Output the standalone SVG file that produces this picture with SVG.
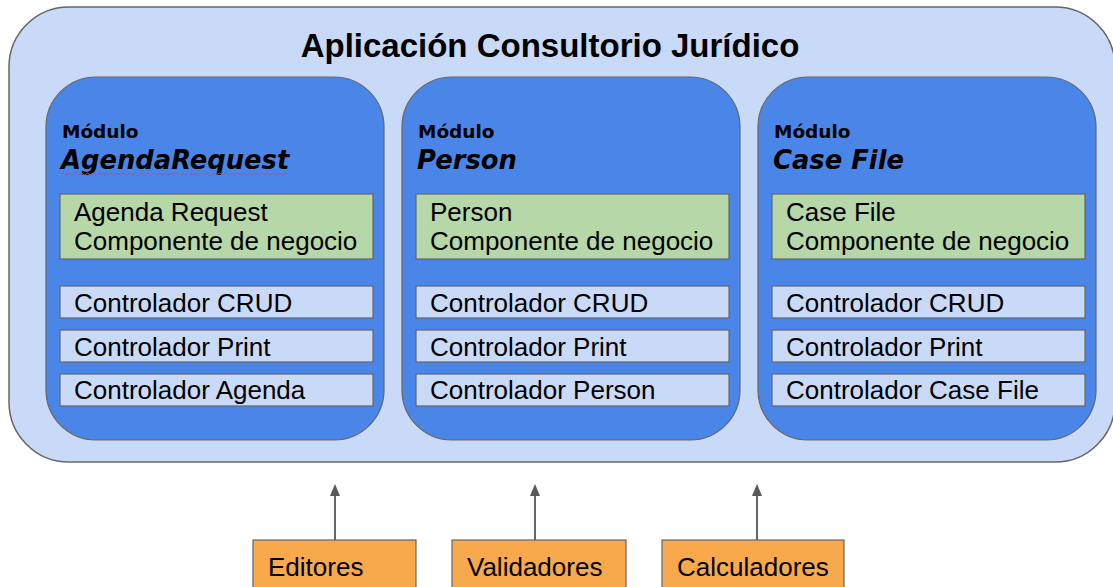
<svg xmlns="http://www.w3.org/2000/svg" width="1113" height="587" viewBox="0 0 1113 587">
<defs>
<style>
.outer{fill:#c9daf8;stroke:#666;stroke-width:1.5}
.mod{fill:#4a86e8;stroke:#666;stroke-width:1.2}
.biz{fill:#b6d7a8;stroke:#666;stroke-width:1.2}
.ctl{fill:#c9daf8;stroke:#666;stroke-width:1.2}
.ext{fill:#f8a94b;stroke:#666;stroke-width:1.2}
.t{font-family:"Liberation Sans",Arial,sans-serif;font-size:26px;fill:#000}
.title{font-family:"Liberation Sans",Arial,sans-serif;font-size:33px;font-weight:bold;fill:#000}
.ml{font-family:"DejaVu Sans",Verdana,sans-serif;font-size:18.5px;font-weight:bold;fill:#000}
.mn{font-family:"DejaVu Sans",Verdana,sans-serif;font-size:25.8px;font-weight:bold;font-style:italic;fill:#000}
.arr{stroke:#666;stroke-width:2;fill:none}
</style>
<marker id="ah" viewBox="0 0 10 12" refX="5" refY="1" markerWidth="10" markerHeight="12" markerUnits="userSpaceOnUse" orient="auto-start-reverse">
<path d="M0,12 L5,0 L10,12 z" fill="#595959"/>
</marker>
</defs>
<rect width="1113" height="587" fill="#fff"/>
<g id="app">
<rect class="outer" x="9" y="7" width="1106" height="455" rx="60" ry="60"/>
<text class="title" x="550" y="57" text-anchor="middle">Aplicación Consultorio Jurídico</text>
</g>
<g id="mod-agenda">
<rect class="mod" x="46" y="77" width="338" height="363" rx="50" ry="50"/>
<text class="ml" x="62" y="138">Módulo</text>
<text class="mn" x="61" y="169">AgendaRequest</text>
<path d="M62,174 q1.5,-2 3,0 t3,0 t3,0 t3,0 t3,0 t3,0 t3,0 t3,0 t3,0 t3,0 t3,0 t3,0 t3,0 t3,0 t3,0 t3,0 t3,0 t3,0 t3,0 t3,0 t3,0 t3,0 t3,0 t3,0 t3,0 t3,0 t3,0 t3,0 t3,0 t3,0 t3,0 t3,0 t3,0 t3,0 t3,0 t3,0 t3,0 t3,0 t3,0 t3,0 t3,0 t3,0 t3,0 t3,0 t3,0 t3,0 t3,0 t3,0 t3,0 t3,0 t3,0 t3,0 t3,0 t3,0 t3,0 t3,0 t3,0 t3,0 t3,0 t3,0 t3,0 t3,0 t3,0 t3,0 t3,0 t3,0 t3,0 t3,0 t3,0 t3,0 t3,0 t3,0 t3,0 t3,0 t3,0" fill="none" stroke="#e0406a" stroke-width="1"/>
<rect class="biz" x="60" y="194" width="313" height="65"/>
<text class="t" x="74" y="221">Agenda Request</text>
<text class="t" x="74" y="250">Componente de negocio</text>
<rect class="ctl" x="60" y="286" width="313" height="32"/>
<text class="t" x="74" y="312">Controlador CRUD</text>
<rect class="ctl" x="60" y="330" width="313" height="32"/>
<text class="t" x="74" y="356">Controlador Print</text>
<rect class="ctl" x="60" y="374" width="313" height="32"/>
<text class="t" x="74" y="399">Controlador Agenda</text>
</g>
<g id="mod-person">
<rect class="mod" x="402" y="77" width="338" height="363" rx="50" ry="50"/>
<text class="ml" x="418" y="138">Módulo</text>
<text class="mn" x="417" y="169">Person</text>
<rect class="biz" x="416" y="194" width="313" height="65"/>
<text class="t" x="430" y="221">Person</text>
<text class="t" x="430" y="250">Componente de negocio</text>
<rect class="ctl" x="416" y="286" width="313" height="32"/>
<text class="t" x="430" y="312">Controlador CRUD</text>
<rect class="ctl" x="416" y="330" width="313" height="32"/>
<text class="t" x="430" y="356">Controlador Print</text>
<rect class="ctl" x="416" y="374" width="313" height="32"/>
<text class="t" x="430" y="399">Controlador Person</text>
</g>
<g id="mod-casefile">
<rect class="mod" x="758" y="77" width="338" height="363" rx="50" ry="50"/>
<text class="ml" x="774" y="138">Módulo</text>
<text class="mn" x="773" y="169">Case File</text>
<rect class="biz" x="772" y="194" width="313" height="65"/>
<text class="t" x="786" y="221">Case File</text>
<text class="t" x="786" y="250">Componente de negocio</text>
<rect class="ctl" x="772" y="286" width="313" height="32"/>
<text class="t" x="786" y="312">Controlador CRUD</text>
<rect class="ctl" x="772" y="330" width="313" height="32"/>
<text class="t" x="786" y="356">Controlador Print</text>
<rect class="ctl" x="772" y="374" width="313" height="32"/>
<text class="t" x="786" y="399">Controlador Case File</text>
</g>
<g id="editores">
<rect class="ext" x="253" y="540" width="163" height="60"/>
<text class="t" x="268" y="576">Editores</text>
</g>
<g id="validadores">
<rect class="ext" x="452" y="540" width="174" height="60"/>
<text class="t" x="467" y="576">Validadores</text>
</g>
<g id="calculadores">
<rect class="ext" x="662" y="540" width="182" height="60"/>
<text class="t" x="677" y="576">Calculadores</text>
</g>
<g id="connectors">
<line class="arr" x1="335" y1="540" x2="335" y2="494"/>
<path d="M330,496 L335,484 L340,496 z" fill="#595959"/>
<line class="arr" x1="535" y1="540" x2="535" y2="494"/>
<path d="M530,496 L535,484 L540,496 z" fill="#595959"/>
<line class="arr" x1="757" y1="540" x2="757" y2="494"/>
<path d="M752,496 L757,484 L762,496 z" fill="#595959"/>
</g>
</svg>
